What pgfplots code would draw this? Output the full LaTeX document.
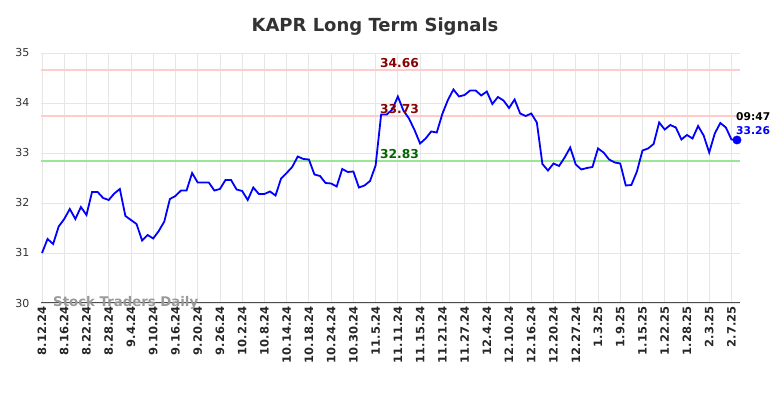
\documentclass[border=0pt]{standalone}
\usepackage{fontspec}
\setmainfont{DejaVu Sans}
\usepackage{pgfplots}
\usepackage{pgfplotstable}
\pgfplotsset{compat=1.18}
\definecolor{gridc}{HTML}{E6E6E6}
\definecolor{resline}{HTML}{FFCCCC}
\definecolor{supline}{HTML}{99E699}
\definecolor{restxt}{HTML}{8B0000}
\definecolor{suptxt}{HTML}{006400}
\pgfplotstableread{
x y
0 31.00
1 31.28
2 31.18
3 31.53
4 31.68
5 31.88
6 31.68
7 31.92
8 31.76
9 32.22
10 32.22
11 32.10
12 32.06
13 32.19
14 32.28
15 31.74
16 31.66
17 31.58
18 31.25
19 31.36
20 31.29
21 31.44
22 31.63
23 32.08
24 32.14
25 32.25
26 32.25
27 32.60
28 32.41
29 32.41
30 32.41
31 32.25
32 32.28
33 32.46
34 32.46
35 32.27
36 32.24
37 32.06
38 32.31
39 32.18
40 32.18
41 32.23
42 32.15
43 32.49
44 32.60
45 32.72
46 32.93
47 32.88
48 32.87
49 32.57
50 32.54
51 32.40
52 32.39
53 32.33
54 32.68
55 32.62
56 32.63
57 32.31
58 32.35
59 32.44
60 32.75
61 33.77
62 33.77
63 33.87
64 34.13
65 33.85
66 33.69
67 33.46
68 33.19
69 33.29
70 33.43
71 33.41
72 33.78
73 34.06
74 34.27
75 34.13
76 34.16
77 34.25
78 34.25
79 34.15
80 34.23
81 33.98
82 34.12
83 34.05
84 33.90
85 34.07
86 33.79
87 33.74
88 33.79
89 33.61
90 32.78
91 32.65
92 32.79
93 32.74
94 32.91
95 33.11
96 32.77
97 32.67
98 32.70
99 32.72
100 33.09
101 33.01
102 32.87
103 32.81
104 32.79
105 32.35
106 32.36
107 32.63
108 33.05
109 33.09
110 33.18
111 33.61
112 33.47
113 33.56
114 33.51
115 33.27
116 33.36
117 33.29
118 33.54
119 33.35
120 33.01
121 33.39
122 33.60
123 33.51
124 33.27
125 33.26
}\pricetable
\begin{document}
\begin{tikzpicture}[x=1pt,y=1pt]
\path (0,0) rectangle (784,398);
\node[font=\fontsize{18}{18}\selectfont\bfseries, text=black!80] at (375,371) {KAPR Long Term Signals};
\begin{axis}[at={(41pt,95pt)}, anchor=south west, scale only axis,
  width=699pt, height=250pt,
  xmin=-0.18, xmax=125.54, ymin=30, ymax=35,
  axis lines=left, axis line style={-},
  x axis line style={draw=black!70, line width=1pt},
  y axis line style={draw=none},
  grid=major, major grid style={gridc, line width=0.8pt},
  major tick length=0pt,
  clip=false,
  /pgf/number format/assume math mode=true,
  ytick={30,31,32,33,34,35},
  yticklabel style={font=\fontsize{11}{11}\selectfont, text=black!80, xshift=-8pt},
  xtick={0,4,...,124},
  xticklabels={8.12.24,8.16.24,8.22.24,8.28.24,9.4.24,9.10.24,9.16.24,9.20.24,9.26.24,10.2.24,10.8.24,10.14.24,10.18.24,10.24.24,10.30.24,11.5.24,11.11.24,11.15.24,11.21.24,11.27.24,12.4.24,12.10.24,12.16.24,12.20.24,12.27.24,1.3.25,1.9.25,1.15.25,1.22.25,1.28.25,2.3.25,2.7.25},
  xticklabel style={rotate=90, anchor=east, font=\fontsize{11.5}{11.5}\selectfont\bfseries, text=black!85},
]
\addplot[resline, line width=2pt] coordinates {(-0.18,34.66) (125.54,34.66)};
\addplot[resline, line width=2pt] coordinates {(-0.18,33.73) (125.54,33.73)};
\addplot[supline, line width=2pt] coordinates {(-0.18,32.83) (125.54,32.83)};
\addplot[blue, line width=1.8pt] table[x=x,y=y] {\pricetable};
\addplot[only marks, mark=*, mark size=4.2pt, blue] coordinates {(125,33.26)};
\node[anchor=south, text=restxt, font=\fontsize{12.3}{12.3}\selectfont\bfseries, inner sep=0pt] at (axis cs:64.3,34.66) [yshift=2.5pt] {34.66};
\node[anchor=south, text=restxt, font=\fontsize{12.3}{12.3}\selectfont\bfseries, inner sep=0pt] at (axis cs:64.3,33.73) [yshift=2.5pt] {33.73};
\node[anchor=south, text=suptxt, font=\fontsize{12.3}{12.3}\selectfont\bfseries, inner sep=0pt] at (axis cs:64.3,32.83) [yshift=2.5pt] {32.83};
\node[anchor=south west, text=blue, font=\fontsize{10.7}{10.7}\selectfont\bfseries, inner sep=0pt] at (axis cs:125,33.26) [xshift=-1pt, yshift=5pt] {33.26};
\node[anchor=south west, text=black, font=\fontsize{10.7}{10.7}\selectfont\bfseries, inner sep=0pt] at (axis cs:125,33.26) [xshift=-1pt, yshift=19pt] {09:47};
\node[anchor=west, text=black!40, font=\fontsize{13.3}{13.3}\selectfont\bfseries, inner sep=0pt] at (axis cs:1.98,30) {Stock Traders Daily};
\end{axis}
\end{tikzpicture}
\end{document}
